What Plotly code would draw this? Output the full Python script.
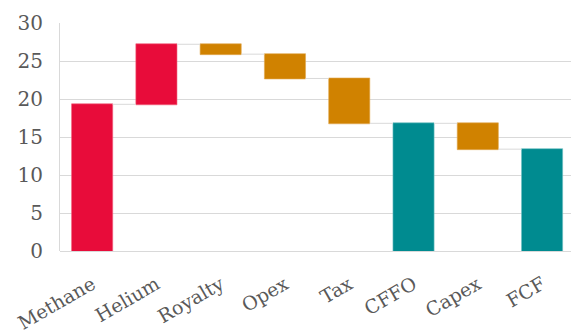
import plotly.graph_objects as go

categories = ["Methane", "Helium", "Royalty", "Opex", "Tax", "CFFO", "Capex", "FCF"]
values = [19.3, 7.9, -1.3, -3.2, -5.9, 0, -3.4, 0]
measures = ["relative", "relative", "relative", "relative", "relative", "total", "relative", "total"]
y_ticks = [0, 5, 10, 15, 20, 25, 30]

RED = "#E80C3A"
ORANGE = "#D08200"
TEAL = "#008B90"
FONT = "DejaVu Serif"
TXT = "#595959"

fig = go.Figure(go.Waterfall(
    x=categories,
    y=values,
    measure=measures,
    increasing=dict(marker=dict(color=RED, line=dict(color="#F0607A", width=0.6))),
    decreasing=dict(marker=dict(color=ORANGE, line=dict(color="#E0A850", width=0.6))),
    totals=dict(marker=dict(color=TEAL, line=dict(color="#6FBFC2", width=0.6))),
    connector=dict(line=dict(color="#D9D9D9", width=1), mode="between"),
    width=0.64,
    hoverinfo="x+y",
))

fig.update_layout(
    width=571, height=336,
    margin=dict(l=60, r=0, t=23, b=85),
    paper_bgcolor="white", plot_bgcolor="white",
    showlegend=False,
    font=dict(family=FONT, color=TXT, size=19),
    xaxis=dict(
        range=[-0.5, 7.45],
        tickangle=-30,
        showgrid=False,
        automargin=False,
        ticks="outside", ticklen=14, tickcolor="rgba(0,0,0,0)",
        tickfont=dict(family=FONT, size=19, color=TXT),
        showline=False,
    ),
    yaxis=dict(
        range=[0, 30],
        automargin=False,
        tickvals=y_ticks,
        ticktext=[str(v) for v in y_ticks],
        showgrid=True, gridcolor="#D9D9D9", gridwidth=1,
        zeroline=True, zerolinecolor="#D9D9D9", zerolinewidth=1,
        showline=True, linecolor="#D9D9D9", linewidth=1,
        ticks="outside", ticklen=12, tickcolor="rgba(0,0,0,0)",
        tickfont=dict(family=FONT, size=20, color=TXT),
    ),
)

fig.write_html("out.html")
